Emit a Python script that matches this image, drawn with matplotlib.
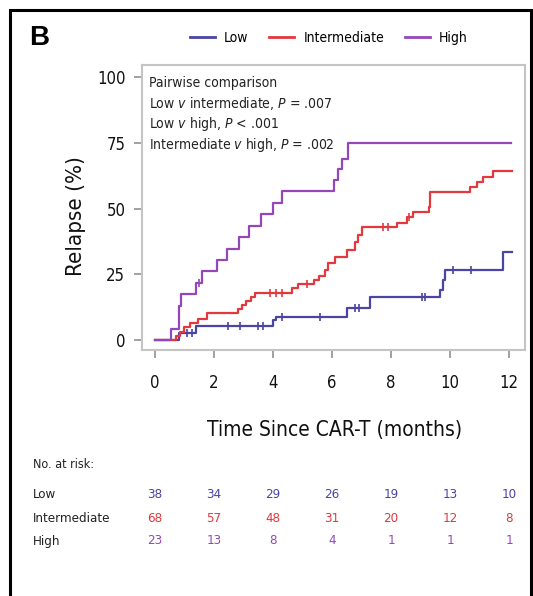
import matplotlib
matplotlib.use("Agg")
import matplotlib.pyplot as plt
from matplotlib.patches import Rectangle
from matplotlib.lines import Line2D
import matplotlib.transforms as mtransforms

plt.rcParams['font.family'] = ['DejaVu Sans']
plt.rcParams['font.stretch'] = 'condensed'

#############################################
# Data
#############################################
groups = ["Low", "Intermediate", "High"]

# step curves: time (months) / cumulative relapse (%)
low_t = [0, 0.80, 1.40, 4.00, 4.10, 6.50, 7.29, 9.66, 9.77, 9.83, 11.80, 12.10]
low_v = [0, 2.6, 5.5, 7.6, 8.9, 12.0, 16.5, 19.0, 22.8, 26.6, 33.6, 33.6]

int_t = [0, 0.72, 0.85, 1.00, 1.20, 1.45, 1.75, 2.80, 2.95, 3.10, 3.25, 3.40,
         4.63, 4.85, 5.40, 5.55, 5.75, 5.85, 6.10, 6.50, 6.78, 6.88, 7.00,
         8.19, 8.53, 8.75, 9.27, 9.32, 10.68, 10.90, 11.13, 11.46, 12.10]
int_v = [0, 1.6, 3.2, 4.8, 6.4, 8.0, 10.1, 11.8, 13.3, 14.8, 16.3, 17.8,
         19.6, 21.2, 22.8, 24.4, 26.8, 29.3, 31.7, 34.2, 37.4, 40.0, 43.0,
         44.4, 46.9, 48.8, 50.7, 56.4, 58.3, 60.2, 62.1, 64.4, 64.4]

high_t = [0, 0.55, 0.82, 0.88, 1.40, 1.60, 2.10, 2.45, 2.85, 3.20, 3.60, 4.00,
          4.30, 6.05, 6.20, 6.35, 6.55, 12.05]
high_v = [0, 4.3, 13.0, 17.4, 21.7, 26.1, 30.4, 34.8, 39.1, 43.5, 47.8, 52.2,
          56.5, 61.0, 65.0, 69.0, 75.0, 75.0]

# censoring marks
low_cens_t = [1.10, 1.25, 2.48, 2.88, 3.50, 3.67, 4.30, 5.60, 6.78, 6.90, 9.05, 9.15, 10.10, 10.70]
low_cens_v = [2.6, 2.6, 5.5, 5.5, 5.5, 5.5, 8.9, 8.9, 12.0, 12.0, 16.5, 16.5, 26.6, 26.6]
int_cens_t = [3.90, 4.10, 4.30, 5.15, 7.74, 7.90, 8.60]
int_cens_v = [17.8, 17.8, 17.8, 21.2, 43.0, 43.0, 46.9]
high_cens_t = [1.50]
high_cens_v = [21.7]

# number at risk table
risk_times = [0, 2, 4, 6, 8, 10, 12]
risk_low = [38, 34, 29, 26, 19, 13, 10]
risk_int = [68, 57, 48, 31, 20, 12, 8]
risk_high = [23, 13, 8, 4, 1, 1, 1]

x_ticks = [0, 2, 4, 6, 8, 10, 12]
y_ticks = [0, 25, 50, 75, 100]

pairwise_lines = [
    "Pairwise comparison",
    "Low $\\it{v}$ intermediate, $\\it{P}$ = .007",
    "Low $\\it{v}$ high, $\\it{P}$ < .001",
    "Intermediate $\\it{v}$ high, $\\it{P}$ = .002",
]

colors = {"Low": "#4a44a2", "Intermediate": "#e2383e", "High": "#9447b8"}
spine_col = "#c4c4c4"

#############################################
# Figure
#############################################
W, H = 533, 596
fig = plt.figure(figsize=(W / 100, H / 100), dpi=100)

def fx(px):
    return px / W

def fy(py):
    return 1 - py / H

ax = fig.add_axes([fx(142), fy(350), fx(525) - fx(142), fy(65) - fy(350)])

ax.step(low_t, low_v, where="post", color=colors["Low"], lw=1.6)
ax.step(int_t, int_v, where="post", color=colors["Intermediate"], lw=1.6)
ax.step(high_t, high_v, where="post", color=colors["High"], lw=1.6)

ax.plot(low_cens_t, low_cens_v, ls="none", marker="|", ms=6, mew=1.2, color=colors["Low"])
ax.plot(int_cens_t, int_cens_v, ls="none", marker="|", ms=6, mew=1.2, color=colors["Intermediate"])
ax.plot(high_cens_t, high_cens_v, ls="none", marker="|", ms=6, mew=1.2, color=colors["High"])

ax.set_xlim(-0.44, 12.54)
ax.set_ylim(-3.8, 104.6)
ax.set_xticks(x_ticks)
ax.set_yticks(y_ticks)
for s in ax.spines.values():
    s.set_color(spine_col)
    s.set_linewidth(1.5)
ax.tick_params(axis="both", colors="#9a9a9a", length=6, width=1.3, labelsize=12,
               labelcolor="#111111")
ax.tick_params(axis="x", pad=11)
ax.tick_params(axis="y", pad=6)

ax.set_xlabel("Time Since CAR-T (months)", fontsize=15, color="#111111")
ax.xaxis.set_label_coords(0.504, -0.28)
ax.xaxis.label.set_va("center")
ax.set_ylabel("Relapse (%)", fontsize=16, color="#111111")
ax.yaxis.set_label_coords(-0.172, 0.47)
ax.yaxis.label.set_va("center")

# pairwise comparison text block
for i, line in enumerate(pairwise_lines):
    fig.text(fx(149), fy(83 + i * 20.5), line, fontsize=10, color="#222222",
             ha="left", va="center")

# legend on top
handles = [Line2D([0], [0], color=colors[g], lw=2) for g in groups]
fig.legend(handles, groups, loc="center", bbox_to_anchor=(fx(329), fy(38)), ncol=3,
           frameon=False, fontsize=10, handlelength=1.8, handletextpad=0.65,
           columnspacing=1.5)

# panel letter
fig.text(fx(39), fy(38), "B", fontsize=20, fontweight="bold",
         family=["Liberation Sans", "DejaVu Sans"], ha="center", va="center")

# number at risk table
trans = mtransforms.blended_transform_factory(ax.transData, fig.transFigure)
fig.text(fx(33), fy(464), "No. at risk:", fontsize=9, color="#222222", va="center")
rows = [("Low", risk_low, fy(495)), ("Intermediate", risk_int, fy(518)), ("High", risk_high, fy(541))]
for name, vals, yy in rows:
    fig.text(fx(33), yy, name, fontsize=9.5, color="#222222", va="center")
    for t, n in zip(risk_times, vals):
        ax.text(t, yy, str(n), transform=trans, fontsize=9.5, color=colors[name],
                ha="center", va="center")

# black frame around the panel
fig.patches.append(Rectangle((fx(9.5), -0.05), fx(531) - fx(9.5), fy(9.5) + 0.05,
                             transform=fig.transFigure, fill=False, ec="black", lw=2.2))

fig.savefig("out.png", dpi=100)
